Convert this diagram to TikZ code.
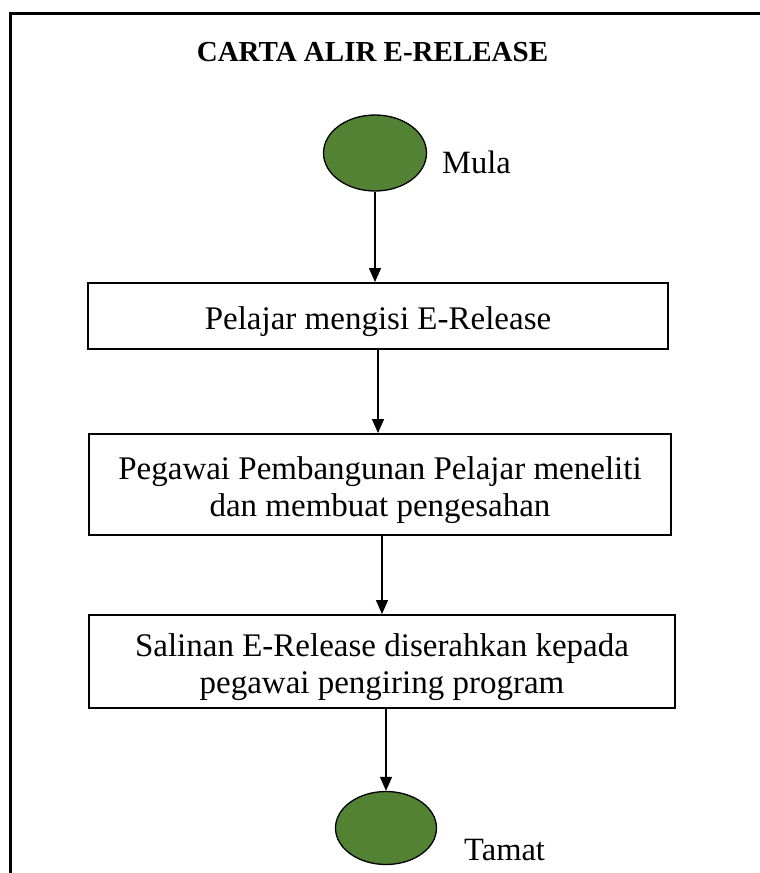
\documentclass[tikz,border=0pt]{standalone}
\usepackage{fontspec}
\setmainfont{Liberation Serif}
\usetikzlibrary{shapes.geometric,arrows.meta,positioning,calc}
\definecolor{termcolor}{RGB}{84,130,53}
\newcommand{\lift}{\rule{0pt}{35pt}}

\begin{document}
\begin{tikzpicture}[x=1pt, y=-1pt,
                terminal/.style={ellipse, draw, line width=1.3pt, fill=termcolor, minimum width=103pt, minimum height=76pt, inner sep=0pt},
                process/.style={rectangle, draw, line width=2pt, align=center, font=\fontsize{33}{37}\selectfont, inner sep=0pt},
                termtext/.style={font=\fontsize{32.5}{36}\selectfont, anchor=base west, inner sep=0pt},
                arrow/.style={-{Triangle[length=14pt,width=12pt]}, line width=1.5pt}]

                \useasboundingbox (0,0) rectangle (760,873);

                % Frame
                \draw[line width=3pt] (10,873) -- (10,13) -- (760,13);
                \node[font=\bfseries\fontsize{29}{33}\selectfont] (title) at (372.5,52) {CARTA ALIR E-RELEASE};

                % Start
                \node[terminal] (start) at (375,153) {};
                \node[termtext] (mula) at (442,173) {Mula};

                % Steps
                \node[process, minimum width=580pt, minimum height=66pt] (s1) at (378,316) {\lift Pelajar mengisi E-Release};
                \node[process, minimum width=582pt, minimum height=101pt] (s2) at (380,484.5) {\lift Pegawai Pembangunan Pelajar meneliti\\dan membuat pengesahan};
                \node[process, minimum width=586pt, minimum height=93pt] (s3) at (382,661.5) {\lift Salinan E-Release diserahkan kepada\\pegawai pengiring program};

                % End
                \node[terminal, minimum width=101pt, minimum height=73pt] (stop) at (386,828) {};
                \node[termtext] (tamat) at (464,860) {Tamat};

                \draw[arrow] (start) -- (start |- s1.north);
                \draw[arrow] (s1.south) -- (s1.south |- s2.north);
                \draw[arrow] (s3.north |- s2.south) -- (s3.north);
                \draw[arrow] (stop |- s3.south) -- (stop);

            \end{tikzpicture}
\end{document}
